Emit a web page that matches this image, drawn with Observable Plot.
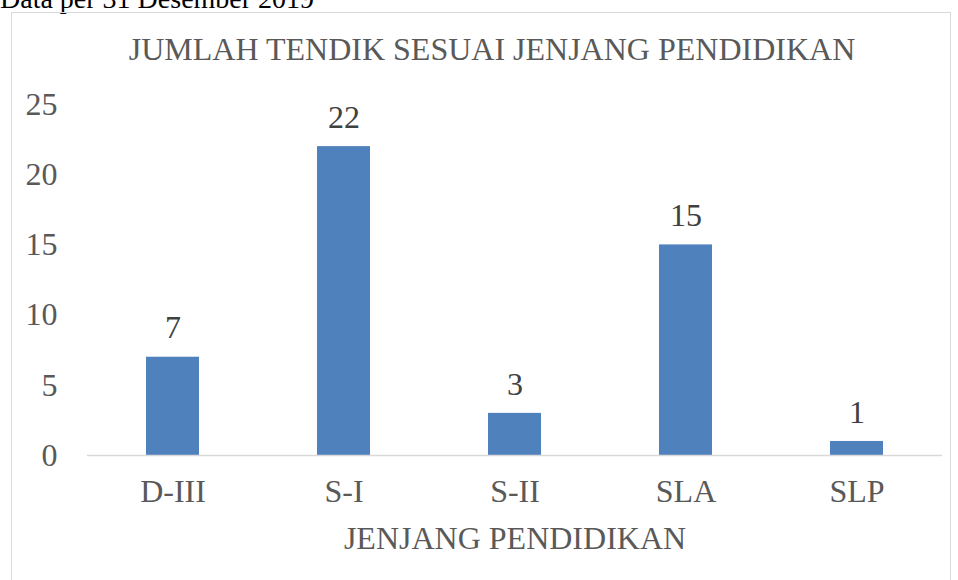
<!DOCTYPE html>
<html><head><meta charset="utf-8">
<script src="https://cdn.jsdelivr.net/npm/d3@7"></script>
<script src="https://cdn.jsdelivr.net/npm/@observablehq/plot@0.6"></script>
<style>
body{margin:0;background:#fff;overflow:hidden;}
#wrap{position:relative;width:958px;height:580px;font-family:"Liberation Serif","Times New Roman",serif;}
#note{position:absolute;left:0;top:-17px;font-size:28px;color:#000;white-space:nowrap;}
#box{position:absolute;left:11px;top:12px;width:940px;height:600px;border:1.5px solid #d9d9d9;box-sizing:border-box;}
#title{position:absolute;left:0;width:984px;top:31px;text-align:center;font-size:32px;color:#595959;}
#chart{position:absolute;left:0;top:0;}
</style></head>
<body><div id="wrap"><div id="note">Data per 31 Desember 2019</div><div id="box"></div><div id="chart"></div><div id="title">JUMLAH TENDIK SESUAI JENJANG PENDIDIKAN</div></div>
<script>
const categories = ["D-III","S-I","S-II","SLA","SLP"];
const values = [7,22,3,15,1];
const yTicks = [0,5,10,15,20,25];
const data = categories.map((c,i)=>({jenjang:c, jumlah:values[i]}));
const chart = Plot.plot({
  width:958, height:580,
  marginTop:104, marginBottom:125, marginLeft:87, marginRight:16,
  style:{fontFamily:"Liberation Serif, Times New Roman, serif", background:"transparent"},
  x:{domain:categories, paddingInner:0.69, paddingOuter:0.345},
  y:{domain:[0,25]},
  marks:[
    Plot.barY(data,{x:"jenjang", y:"jumlah", fill:"#4f81bd"}),
    Plot.ruleY([0],{stroke:"#d9d9d9", strokeWidth:1.5}),
    Plot.text(data,{x:"jenjang", y:"jumlah", text:d=>String(d.jumlah), dy:-29, fontSize:32, fill:"#404040"}),
    Plot.axisY({ticks:yTicks, tickSize:0, tickPadding:30, label:null, fontSize:32, color:"#595959"}),
    Plot.axisX({tickSize:0, tickPadding:24, fontSize:32, color:"#595959", label:"JENJANG PENDIDIKAN", labelAnchor:"center", labelOffset:93})
  ]
});
document.getElementById("chart").appendChild(chart);
</script></body></html>
